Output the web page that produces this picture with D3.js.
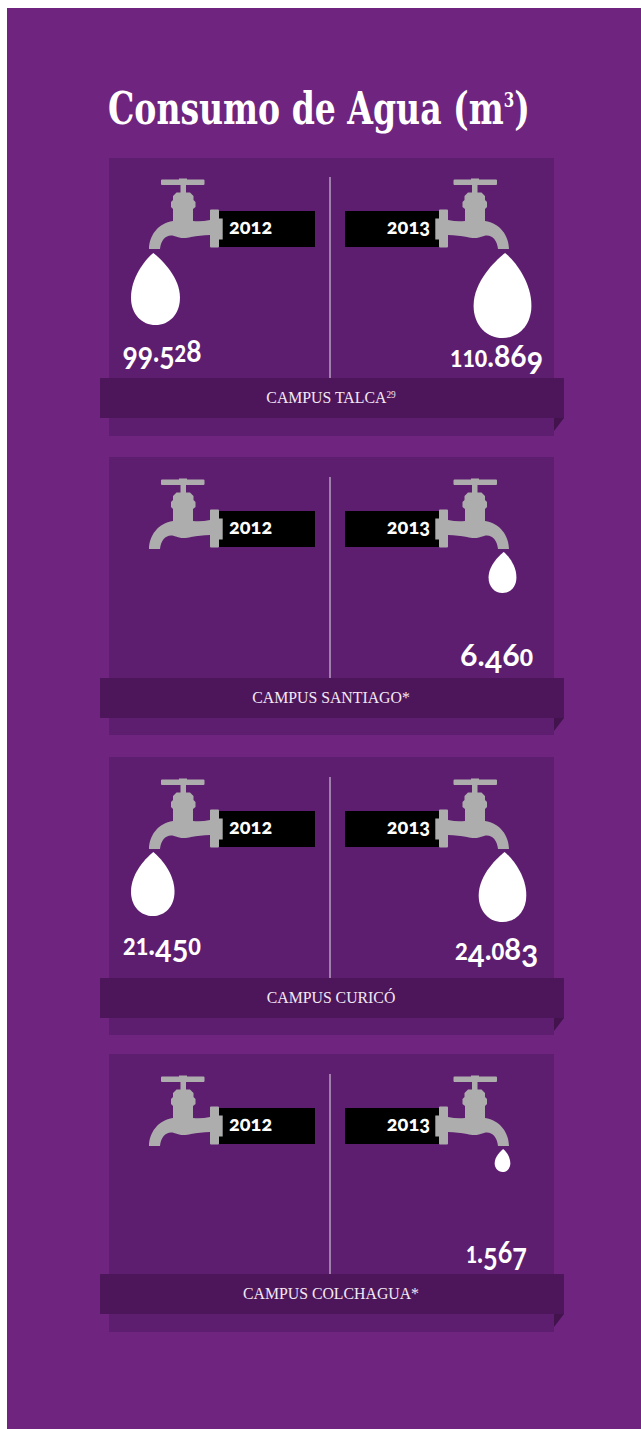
<!DOCTYPE html>
<html>
<head>
<meta charset="utf-8">
<script src="https://cdn.jsdelivr.net/npm/d3@7"></script>
<style>
  html, body { margin: 0; padding: 0; background: #fff; }
  svg { display: block; }
</style>
</head>
<body>
<div id="chart"></div>
<script>
// data
const campuses = ['CAMPUS TALCA', 'CAMPUS SANTIAGO', 'CAMPUS CURICÓ', 'CAMPUS COLCHAGUA'];
const footnotes = ['29', '*', '', '*'];
const years = ['2012', '2013'];
const consumo2012 = [99528, null, 21450, null];
const consumo2013 = [110869, 6460, 24083, 1567];

const width = 641, height = 1429;
const purple = '#6f2480', panelColor = '#5e1e70', ribbonColor = '#4e165a', foldColor = '#43134e';
const tapColor = '#adadad';

// layout of each card
const panelTops = [158, 457, 757, 1054];
const tapTops = [158, 458, 758, 1055];
const ribbonTops = [378, 678, 978, 1274];
const labelOffsets = [[203.5, 209], [0, 208.7], [198, 203], [0, 209.3]];
const labelWidths = [[79, 93], [0, 73], [78, 83], [0, 61]];

// the original drops are not on one linear scale, so go stop by stop
const dropHeight = d3.scaleLinear()
    .domain([1567, 6460, 21450, 24083, 99528, 110869])
    .range([23, 41, 64, 70, 72, 85]);

const column = d3.scaleOrdinal().domain(years).range([162, 496.5]);

const format = d3.formatLocale({ decimal: ',', thousands: '.', grouping: [3], currency: ['', ''] }).format(',d');

const svg = d3.select('#chart').append('svg')
    .attr('width', width)
    .attr('height', height);

svg.append('rect')
    .attr('x', 7).attr('y', 8)
    .attr('width', width - 7).attr('height', height - 8)
    .attr('fill', purple);

const title = svg.append('text')
    .attr('fill', '#fff')
    .attr('font-family', '"DejaVu Serif Condensed", "DejaVu Serif", serif')
    .attr('font-weight', 700)
    .attr('font-size', 44)
    .text('Consumo de Agua (m');
title.append('tspan').attr('font-size', 20).attr('dy', -17).text('3');
title.append('tspan').attr('dy', 17).text(')');
// squeeze the title to the width it has in the original
title.attr('transform', 'translate(108,124) scale(' + (422 / title.node().getComputedTextLength()) + ',1)');

// tap drawn facing left, the 2013 one is mirrored
const tapPath = 'M162,21.5 H179 V20.5 H187 V21.5 H203.5 Q204.5,21.5 204.5,22.5 V26 Q204.5,27 203.5,27 H186 V34.5 ' +
    'H190 L193.5,38 V42 L195.5,44 V49 L193,51 V63 Q201,64 210,62 V52.5 Q210,51.5 211,51.5 H218 Q219,51.5 219,52.5 V60.5 ' +
    'H222.7 V81.5 H219 V88.5 Q219,89.5 218,89.5 H211 Q210,89.5 210,88.5 V77 C203,77 197,78 191,79 C184,81 180,80 174,78 ' +
    'C167,76 161,81 160,91 H149 C149,78 158,65 173,63 V51 L171,49 V44 L173,42 V38 L176.5,34.5 H180.5 V27 H162 ' +
    'Q161,27 161,26 V22.5 Q161,21.5 162,21.5 Z';

function dropPath(year, top, h) {
    const p = d3.path();
    const w = h * 0.34;
    // 2012 drops hang from a fixed left edge, 2013 ones share a centre
    const cx = year === '2012' ? 131 + w : 502.5;
    const tip = year === '2012' ? 153.3 : cx + h * 0.03;
    p.moveTo(tip, top);
    p.bezierCurveTo(tip + h * 0.09, top + h * 0.07, cx + w, top + h * 0.32, cx + w, top + h * 0.62);
    p.bezierCurveTo(cx + w, top + h * 0.85, cx + w * 0.55, top + h, cx, top + h);
    p.bezierCurveTo(cx - w * 0.55, top + h, cx - w, top + h * 0.85, cx - w, top + h * 0.62);
    p.bezierCurveTo(cx - w, top + h * 0.32, tip - h * 0.09, top + h * 0.07, tip, top);
    p.closePath();
    return p.toString();
}

// Lato's own old style figures are too flat, so set them digit by digit:
// 0 1 2 are x-height, 3 4 5 7 9 hang below the line, 6 8 stay full height
function oldStyle(text, str, size) {
    let shift = 0;
    str.split('').forEach(function (ch) {
        const small = '012'.includes(ch);
        const hang = '34579'.includes(ch);
        const drop = hang ? size * 0.23 : 0;
        text.append('tspan')
            .attr('font-size', small ? size * 0.76 : size)
            .attr('font-weight', small ? 900 : 700)
            .attr('dy', drop - shift)
            .text(ch);
        shift = drop;
    });
}

campuses.forEach(function (name, i) {
    const g = svg.append('g').attr('transform', 'translate(0,' + panelTops[i] + ')');

    g.append('rect').attr('x', 109).attr('y', 0).attr('width', 445).attr('height', 278).attr('fill', panelColor);

    // year tags and taps
    const tap = svg.append('g').attr('transform', 'translate(0,' + tapTops[i] + ')');
    tap.append('line').attr('x1', 330).attr('x2', 330).attr('y1', 19).attr('y2', 220)
        .attr('stroke', '#b9a0c0').attr('stroke-width', 1.5);
    tap.append('rect').attr('x', 219).attr('y', 53).attr('width', 96).attr('height', 36).attr('fill', '#000');
    tap.append('rect').attr('x', 345).attr('y', 53).attr('width', 94).attr('height', 36).attr('fill', '#000');
    tap.append('path').attr('d', tapPath).attr('fill', tapColor);
    tap.append('path').attr('d', tapPath).attr('fill', tapColor).attr('transform', 'translate(658,0) scale(-1,1)');

    tap.selectAll('.year').data(years).join('text')
        .attr('class', 'year')
        .attr('x', d => d === '2012' ? 229 : 430)
        .attr('y', 76)
        .attr('text-anchor', d => d === '2012' ? 'start' : 'end')
        .attr('fill', '#fff')
        .attr('font-family', 'Lato, sans-serif')
        .attr('font-weight', 900)
        .attr('font-size', 20)
        .style('font-feature-settings', '"onum"')
        .text(d => d);

    // drops and values
    const rows = [
        { year: '2012', value: consumo2012[i], off: labelOffsets[i][0], w: labelWidths[i][0] },
        { year: '2013', value: consumo2013[i], off: labelOffsets[i][1], w: labelWidths[i][1] }
    ].filter(d => d.value !== null);

    g.selectAll('.drop').data(rows).join('path')
        .attr('class', 'drop')
        .attr('d', d => dropPath(d.year, 95, dropHeight(d.value)))
        .attr('fill', '#fff');

    g.selectAll('.value').data(rows).join('text')
        .attr('class', 'value')
        .attr('text-anchor', 'middle')
        .attr('fill', '#fff')
        .attr('font-family', 'Lato, sans-serif')
        .attr('font-weight', 700)
        .attr('font-size', 31)
        .each(function (d) { oldStyle(d3.select(this), format(d.value), 31); })
        .attr('transform', function (d) {
            return 'translate(' + column(d.year) + ',' + d.off + ') scale(' + (d.w / this.getComputedTextLength()) + ',1)';
        });

    // ribbon
    const rib = svg.append('g').attr('transform', 'translate(0,' + ribbonTops[i] + ')');
    rib.append('path').attr('d', 'M554,40 H564 L554,53 Z').attr('fill', foldColor);
    rib.append('rect').attr('x', 100).attr('y', 0).attr('width', 464).attr('height', 40).attr('fill', ribbonColor);
    const label = rib.append('text')
        .attr('transform', 'translate(331,25) scale(0.93,1)')
        .attr('text-anchor', 'middle')
        .attr('fill', '#f3e9f5')
        .attr('font-family', '"Liberation Serif", serif')
        .attr('font-size', 17)
        .text(name);
    if (footnotes[i] === '29') {
        label.append('tspan').attr('font-size', 10).attr('dy', -5).text(footnotes[i]);
    } else if (footnotes[i]) {
        label.append('tspan').text(footnotes[i]);
    }
});
</script>
</body>
</html>
